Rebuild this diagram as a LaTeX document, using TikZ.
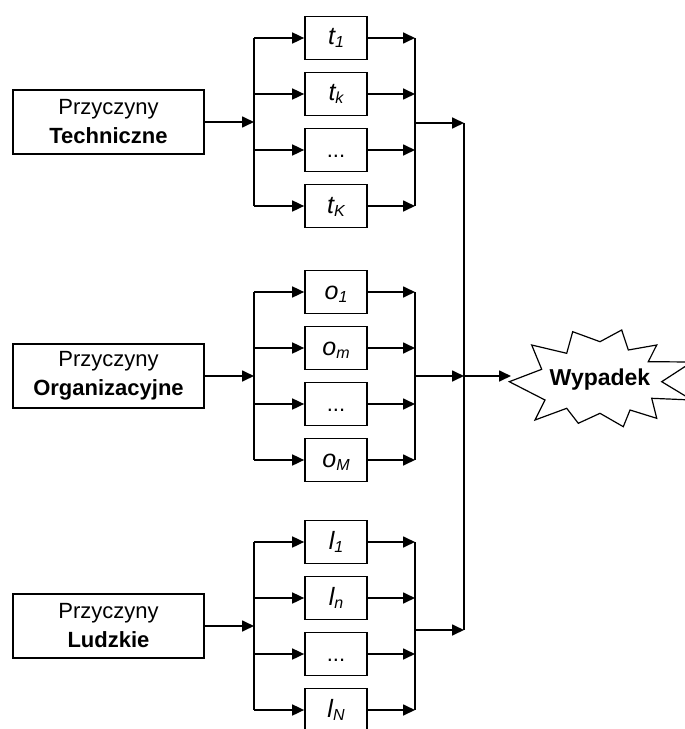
\documentclass[tikz,border=0pt]{standalone}
\usepackage{fontspec}
\setmainfont{Liberation Sans}
\usetikzlibrary{arrows.meta}
% italic cause symbol with a lowered italic index
\newcommand{\causesym}[2]{{\itshape #1\raisebox{-3bp}{\fontsize{16bp}{16bp}\selectfont #2}}}
\begin{document}
\begin{tikzpicture}[x=1bp,y=-1bp,
  line width=1.7bp,
  bigbox/.style={draw, minimum width=191bp, minimum height=64bp, inner sep=0pt,
    align=center, font=\fontsize{22bp}{29bp}\selectfont},
  causebox/.style={draw, minimum width=62bp, minimum height=43bp, inner sep=0pt,
    text height=19bp, text depth=5bp, font=\fontsize{25bp}{28bp}\selectfont},
  flow/.style={-{Triangle[length=12bp,width=11bp]}},
  boom/.style={draw, line width=1.2bp, fill=white},
]
\useasboundingbox (0,0) rectangle (685,729);
\clip (0,0) rectangle (685,729);

% three cause groups: main box, four parallel causes, merge
\foreach \g/\cy/\my/\kind/\v/\s/\S in {
    tech/122/123/Techniczne/t/k/K,
    org/376/376/Organizacyjne/o/m/M,
    hum/626/630/Ludzkie/l/n/N}{
  \node[bigbox] (\g) at (108.5,\cy) {Przyczyny\\\textbf{\kind}};
  \coordinate (\g-split) at (254,\cy);
  \draw[flow] (\g) -- (\g-split);
  \foreach \i/\dy/\lbl in {1/-84/{\causesym{\v}{1}},
                           2/-28/{\causesym{\v}{\s}},
                           3/28/{\fontsize{22bp}{26bp}\selectfont...},
                           4/84/{\causesym{\v}{\S}}}{
    \node[causebox] (\g-\i) at (336,\cy+\dy) {\lbl};
    \coordinate (\g-in-\i) at (254,\cy+\dy);
    \coordinate (\g-out-\i) at (415,\cy+\dy);
    \draw[flow] (\g-in-\i) -- (\g-\i);
    \draw[flow] (\g-\i) -- (\g-out-\i);
  }
  \draw (\g-in-1) -- (\g-in-4);
  \draw (\g-out-1) -- (\g-out-4);
  \coordinate (\g-merge) at (415,\my);
  \coordinate (\g-join) at (464,\my);
  \draw[flow] (\g-merge) -- (\g-join);
}

% collecting line
\draw (tech-join) -- (hum-join);

% explosion
\draw[boom] (509.3,381.7) -- (541.7,369.3) -- (531.7,345) -- (566.7,353.3)
  -- (572.7,331.7) -- (600,341.7) -- (621.7,330) -- (628.3,350)
  -- (656.7,345) -- (648.3,361.7) -- (692,362) -- (661.7,381.7)
  -- (692,400) -- (651.7,398.3) -- (656.7,418.3) -- (630,410)
  -- (623.3,426.7) -- (600,413.3) -- (578.3,423.3) -- (566.7,408.3)
  -- (535,420) -- (545,400) -- cycle;
\node[anchor=base, inner sep=0pt, font=\fontsize{23bp}{26bp}\selectfont\bfseries]
  (wypadek) at (600,385) {Wypadek};
\coordinate (wtip) at (511,376);
\draw[flow] (org-join) -- (wtip);
\end{tikzpicture}
\end{document}
